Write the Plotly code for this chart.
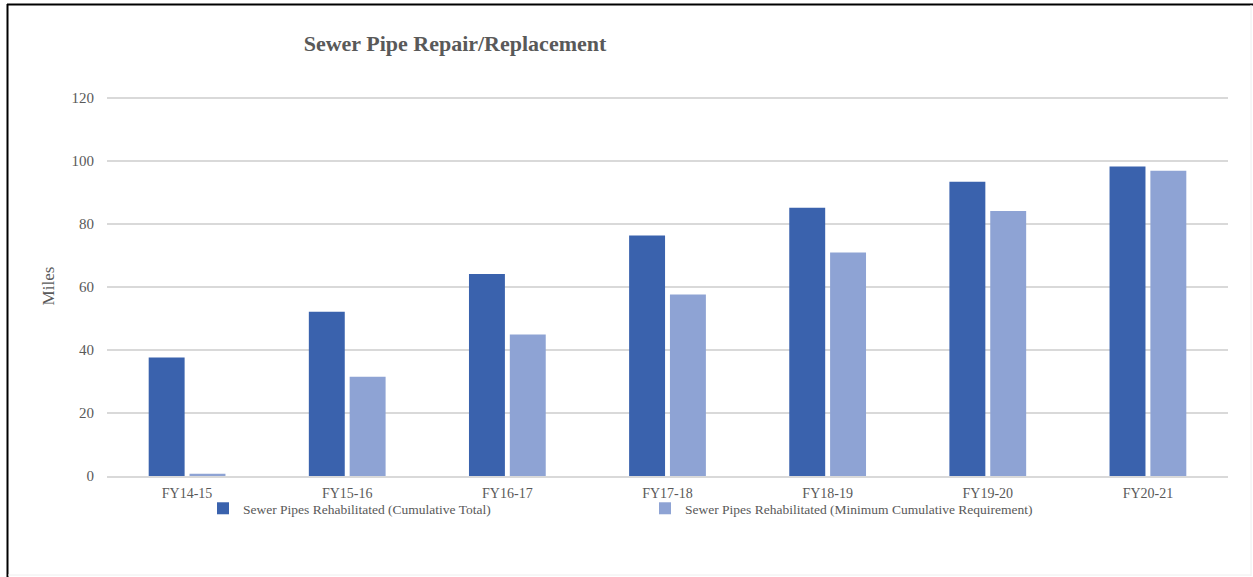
import plotly.graph_objects as go

categories = ["FY14-15", "FY15-16", "FY16-17", "FY17-18", "FY18-19", "FY19-20", "FY20-21"]
cumulative_total = [37.6, 52.1, 64.1, 76.3, 85.1, 93.4, 98.2]
minimum_requirement = [0.7, 31.5, 44.9, 57.6, 70.9, 84.1, 96.9]
series_names = ["Sewer Pipes Rehabilitated (Cumulative Total)",
                "Sewer Pipes Rehabilitated (Minimum Cumulative Requirement)"]
y_ticks = [0, 20, 40, 60, 80, 100, 120]
y_max = 120.6

W, H = 1253, 577
ML, MR, MB = 107, 25, 101
PH = round((476 - 98) * y_max / 120)
MT = H - MB - PH
PW = W - ML - MR

def px_x(x):
    return (x - ML) / PW

def px_y(y):
    return (H - MB - y) / PH

font_family = "Liberation Serif"
gray = "#595959"

fig = go.Figure()
fig.add_trace(go.Bar(x=categories, y=cumulative_total, name=series_names[0],
                     marker=dict(color="#3a62ad", line=dict(width=0))))
fig.add_trace(go.Bar(x=categories, y=minimum_requirement, name=series_names[1],
                     marker=dict(color="#8ea3d4", line=dict(width=0))))

fig.update_layout(
    width=W, height=H,
    margin=dict(l=ML, r=MR, t=MT, b=MB),
    paper_bgcolor="white", plot_bgcolor="white",
    font=dict(family=font_family, color=gray, size=13),
    barmode="group", bargap=0.49, bargroupgap=0.12,
    title=dict(text="<b>Sewer Pipe Repair/Replacement</b>",
               font=dict(family=font_family, size=22, color=gray),
               x=px_x(455), xref="paper", xanchor="center",
               y=1 - 43 / H, yref="container", yanchor="middle"),
    showlegend=True,
    legend=dict(orientation="h", x=px_x(203), y=px_y(493), xanchor="left", yanchor="top",
                font=dict(family=font_family, size=13.5, color=gray),
                entrywidth=397, entrywidthmode="pixels",
                bgcolor="rgba(0,0,0,0)", itemclick=False, traceorder="normal"),
    xaxis=dict(showgrid=False, showline=True, linecolor="#d9d9d9", linewidth=2,
               ticks="", tickfont=dict(family=font_family, size=14, color=gray),
               ticklabelstandoff=3, zeroline=False),
    yaxis=dict(range=[0, y_max], tickvals=y_ticks, showgrid=True, gridcolor="#d9d9d9",
               gridwidth=2, zeroline=False, showline=False, ticks="",
               tickfont=dict(family=font_family, size=15, color=gray),
               ticklabelstandoff=12,
               title=dict(text="Miles", font=dict(family=font_family, size=17, color=gray),
                          standoff=12)),
    shapes=[
        dict(type="line", xref="paper", yref="paper", x0=px_x(7), x1=px_x(1253),
             y0=px_y(4.5), y1=px_y(4.5), line=dict(color="black", width=2)),
        dict(type="line", xref="paper", yref="paper", x0=px_x(7.5), x1=px_x(7.5),
             y0=px_y(4), y1=px_y(577), line=dict(color="black", width=2)),
        dict(type="line", xref="paper", yref="paper", x0=px_x(1251), x1=px_x(1251),
             y0=px_y(5), y1=px_y(576), line=dict(color="#eeeeee", width=1)),
        dict(type="line", xref="paper", yref="paper", x0=px_x(8), x1=px_x(1251),
             y0=px_y(575), y1=px_y(575), line=dict(color="#eeeeee", width=1)),
    ],
)

fig.write_html("out.html")
